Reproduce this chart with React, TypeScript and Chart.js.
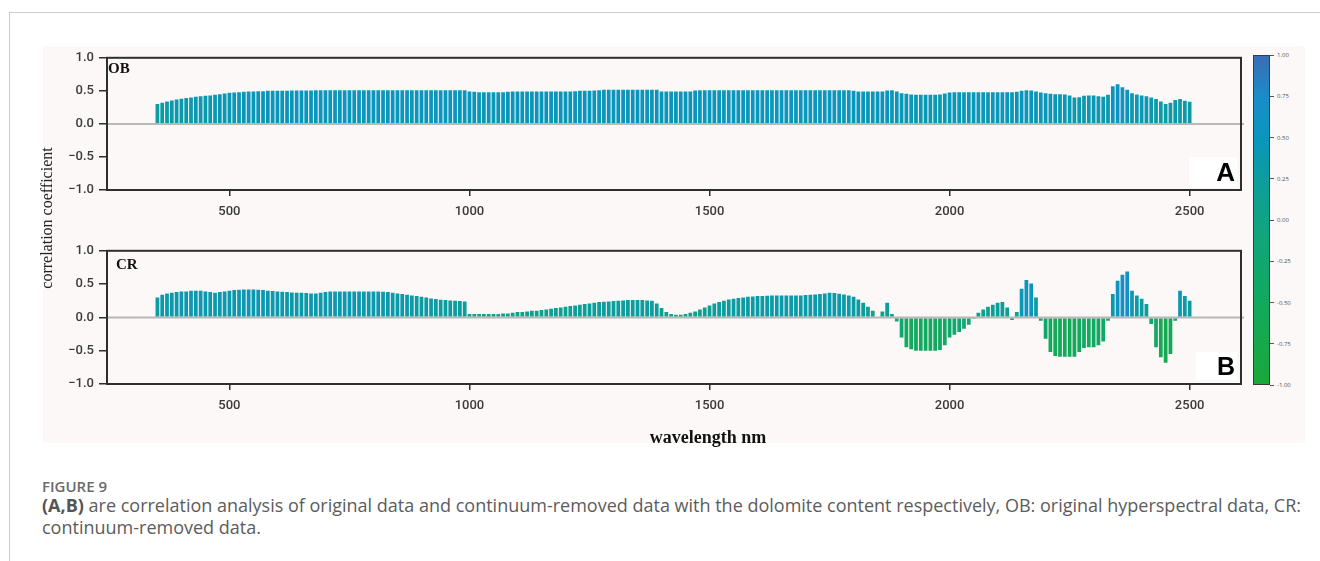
import React, { useEffect, useRef } from "react";
import { Chart, registerables } from "chart.js";

Chart.register(...registerables);

// Spectral sampling: 350–2500 nm every 10 nm
const WL_START = 350;
const WL_STEP = 10;

// Correlation coefficient, original spectra (OB)
const obValues = [
  0.30, 0.32, 0.34, 0.355, 0.37, 0.38, 0.39, 0.40, 0.41, 0.42,
  0.425, 0.43, 0.44, 0.45, 0.46, 0.47, 0.475, 0.48, 0.485, 0.49,
  0.49, 0.495, 0.495, 0.50, 0.50, 0.50, 0.50, 0.50, 0.505, 0.505,
  0.505, 0.505, 0.505, 0.51, 0.51, 0.51, 0.51, 0.51, 0.51, 0.51,
  0.51, 0.51, 0.51, 0.51, 0.51, 0.51, 0.51, 0.51, 0.51, 0.51,
  0.51, 0.51, 0.51, 0.51, 0.51, 0.51, 0.51, 0.51, 0.51, 0.51,
  0.51, 0.51, 0.51, 0.51, 0.51, 0.49, 0.485, 0.48, 0.48, 0.48,
  0.48, 0.48, 0.48, 0.485, 0.49, 0.49, 0.49, 0.49, 0.49, 0.49,
  0.49, 0.49, 0.49, 0.49, 0.49, 0.49, 0.49, 0.495, 0.50, 0.50,
  0.50, 0.505, 0.51, 0.515, 0.515, 0.515, 0.515, 0.515, 0.515, 0.515,
  0.515, 0.515, 0.515, 0.515, 0.515, 0.49, 0.49, 0.49, 0.49, 0.49,
  0.49, 0.49, 0.505, 0.51, 0.51, 0.51, 0.51, 0.51, 0.51, 0.51,
  0.51, 0.51, 0.51, 0.51, 0.51, 0.51, 0.51, 0.51, 0.51, 0.51,
  0.51, 0.51, 0.51, 0.51, 0.51, 0.51, 0.51, 0.51, 0.51, 0.51,
  0.51, 0.51, 0.51, 0.51, 0.51, 0.50, 0.49, 0.49, 0.49, 0.49,
  0.49, 0.49, 0.505, 0.51, 0.49, 0.465, 0.455, 0.445, 0.44, 0.44,
  0.44, 0.44, 0.44, 0.445, 0.46, 0.475, 0.48, 0.48, 0.48, 0.48,
  0.48, 0.48, 0.48, 0.48, 0.48, 0.48, 0.48, 0.48, 0.48, 0.485,
  0.50, 0.51, 0.505, 0.49, 0.475, 0.465, 0.455, 0.45, 0.45, 0.445,
  0.43, 0.40, 0.405, 0.425, 0.43, 0.43, 0.42, 0.41, 0.44, 0.57,
  0.60, 0.555, 0.515, 0.465, 0.445, 0.43, 0.42, 0.40, 0.375, 0.34,
  0.30, 0.32, 0.36, 0.375, 0.35, 0.335,
];

// Correlation coefficient, continuum-removed spectra (CR)
const crValues = [
  0.30, 0.34, 0.36, 0.37, 0.38, 0.39, 0.39, 0.40, 0.40, 0.40,
  0.39, 0.38, 0.37, 0.38, 0.39, 0.40, 0.41, 0.415, 0.42, 0.42,
  0.42, 0.415, 0.41, 0.40, 0.395, 0.39, 0.385, 0.38, 0.375, 0.37,
  0.37, 0.365, 0.36, 0.36, 0.37, 0.38, 0.39, 0.39, 0.39, 0.39,
  0.39, 0.39, 0.39, 0.39, 0.39, 0.39, 0.39, 0.385, 0.38, 0.37,
  0.36, 0.35, 0.34, 0.33, 0.32, 0.31, 0.30, 0.285, 0.275, 0.265,
  0.26, 0.255, 0.25, 0.245, 0.24, 0.05, 0.05, 0.05, 0.05, 0.05,
  0.05, 0.05, 0.06, 0.06, 0.07, 0.08, 0.08, 0.09, 0.10, 0.10,
  0.11, 0.12, 0.13, 0.14, 0.15, 0.16, 0.17, 0.18, 0.19, 0.20,
  0.21, 0.22, 0.23, 0.235, 0.24, 0.245, 0.25, 0.255, 0.26, 0.26,
  0.26, 0.26, 0.255, 0.25, 0.21, 0.14, 0.08, 0.05, 0.04, 0.04,
  0.05, 0.07, 0.09, 0.12, 0.15, 0.18, 0.21, 0.23, 0.25, 0.27,
  0.28, 0.29, 0.30, 0.31, 0.315, 0.32, 0.32, 0.325, 0.33, 0.33,
  0.33, 0.33, 0.33, 0.33, 0.33, 0.335, 0.34, 0.345, 0.35, 0.36,
  0.37, 0.365, 0.355, 0.345, 0.33, 0.31, 0.27, 0.22, 0.16, 0.10,
  0.01, 0.09, 0.22, 0.05, -0.06, -0.30, -0.45, -0.48, -0.50, -0.50,
  -0.50, -0.50, -0.50, -0.49, -0.42, -0.30, -0.26, -0.22, -0.17, -0.11,
  -0.02, 0.07, 0.12, 0.16, 0.19, 0.22, 0.23, 0.15, -0.04, 0.08,
  0.43, 0.56, 0.51, 0.30, -0.05, -0.32, -0.52, -0.58, -0.59, -0.59,
  -0.59, -0.59, -0.52, -0.46, -0.45, -0.45, -0.42, -0.36, -0.05, 0.35,
  0.55, 0.64, 0.69, 0.40, 0.33, 0.28, 0.20, -0.10, -0.45, -0.60,
  -0.68, -0.55, -0.05, 0.40, 0.32, 0.25,
];

const wavelengths = obValues.map((_, i) => WL_START + i * WL_STEP);

const xTicks = [500, 1000, 1500, 2000, 2500];
const yTicks = [-1, -0.5, 0, 0.5, 1];
const colorbarTicks = [1, 0.75, 0.5, 0.25, 0, -0.25, -0.5, -0.75, -1];

// Colour scale from -1 (green) to +1 (blue)
const colorStops: [number, string][] = [
  [-1.0, "#1aa83b"],
  [-0.5, "#12a95e"],
  [0.0, "#0fa482"],
  [0.25, "#0c9d9e"],
  [0.5, "#0a96bc"],
  [0.75, "#1a8cca"],
  [1.0, "#3a6db4"],
];

function hexToRgb(h: string) {
  return [parseInt(h.slice(1, 3), 16), parseInt(h.slice(3, 5), 16), parseInt(h.slice(5, 7), 16)];
}

function colorFor(v: number) {
  const c = Math.max(-1, Math.min(1, v));
  for (let i = 0; i < colorStops.length - 1; i++) {
    const [a, ca] = colorStops[i];
    const [b, cb] = colorStops[i + 1];
    if (c >= a && c <= b) {
      const t = (c - a) / (b - a);
      const ra = hexToRgb(ca);
      const rb = hexToRgb(cb);
      const m = ra.map((x, k) => Math.round(x + (rb[k] - x) * t));
      return `rgb(${m[0]},${m[1]},${m[2]})`;
    }
  }
  return colorStops[colorStops.length - 1][1];
}

const frameAndBaseline = {
  id: "frameAndBaseline",
  afterDatasetsDraw(chart: any) {
    const { ctx, chartArea: a, scales } = chart;
    const y0 = scales.y.getPixelForValue(0);
    ctx.save();
    ctx.strokeStyle = "#b8b8b8";
    ctx.lineWidth = 2;
    ctx.beginPath();
    ctx.moveTo(a.left, y0);
    ctx.lineTo(a.right + 3, y0);
    ctx.stroke();
    ctx.strokeStyle = "#2e2e2e";
    ctx.lineWidth = 2;
    ctx.strokeRect(a.left, a.top, a.right - a.left, a.bottom - a.top);
    ctx.restore();
  },
};

const tickFont = { family: "Roboto", size: 13, weight: 500 as any };

function SpectrumPanel({ values, top, height }: { values: number[]; top: number; height: number }) {
  const ref = useRef<HTMLCanvasElement>(null);
  useEffect(() => {
    const chart = new Chart(ref.current!, {
      type: "bar",
      data: {
        datasets: [
          {
            data: wavelengths.map((w, i) => ({ x: w, y: values[i] })),
            backgroundColor: (c: any) => colorFor(c.raw ? c.raw.y : 0),
            borderWidth: 0,
            barPercentage: 0.78,
            categoryPercentage: 1,
          },
        ],
      },
      options: {
        animation: false,
        responsive: false,
        devicePixelRatio: 1,
        layout: { padding: { top: 10, right: 3, left: 0, bottom: 0 } },
        plugins: { legend: { display: false }, tooltip: { enabled: false } },
        scales: {
          x: {
            type: "linear",
            offset: false,
            min: 245,
            max: 2607,
            afterBuildTicks: (s: any) => {
              s.ticks = xTicks.map((v) => ({ value: v }));
            },
            afterFit: (s: any) => {
              s.height = 45;
            },
            border: { display: false },
            grid: { display: true, offset: false, drawOnChartArea: false, drawTicks: true, tickLength: 6, color: "#2e2e2e", lineWidth: 1.5 },
            ticks: { font: tickFont, color: "#3a3a3a", padding: 8, maxRotation: 0, autoSkip: false, callback: (v: any) => String(v) },
          },
          y: {
            min: -1,
            max: 1,
            afterBuildTicks: (s: any) => {
              s.ticks = yTicks.map((v) => ({ value: v }));
            },
            afterFit: (s: any) => {
              s.width = 63;
            },
            border: { display: false },
            grid: { display: true, drawOnChartArea: false, drawTicks: true, tickLength: 8, color: "#2e2e2e", lineWidth: 1.5 },
            ticks: {
              font: tickFont,
              color: "#3a3a3a",
              padding: 5,
              callback: (v: any) => (v < 0 ? "\u2212" : "") + Math.abs(v).toFixed(1),
            },
          },
        },
      },
      plugins: [frameAndBaseline],
    } as any);
    return () => chart.destroy();
  }, [values]);
  return (
    <canvas
      ref={ref}
      width={1200}
      height={height}
      style={{ position: "absolute", left: 44, top, width: 1200, height }}
    />
  );
}

const serif = "'Liberation Serif', 'Times New Roman', serif";

export default function App() {
  const cbTop = 55;
  const cbHeight = 330;
  const gradient =
    "linear-gradient(to top, " +
    colorStops.map(([v, c]) => `${c} ${((v + 1) / 2) * 100}%`).join(", ") +
    ")";
  return (
    <div style={{ position: "absolute", left: 0, top: 0, width: 1320, height: 561, overflow: "hidden", background: "#ffffff" }}>
      <div style={{ position: "absolute", left: 9, top: 12, width: 1400, height: 700, borderTop: "1px solid #cdcdcd", borderLeft: "1px solid #cdcdcd" }} />
      <div style={{ position: "absolute", left: 43, top: 46, width: 1262, height: 397, background: "#fbf8f7" }} />

      <SpectrumPanel values={obValues} top={45} height={190} />
      <SpectrumPanel values={crValues} top={238} height={191} />

      <div style={{ position: "absolute", left: 108, top: 60, font: `bold 15px ${serif}`, color: "#111" }}>OB</div>
      <div style={{ position: "absolute", left: 116, top: 256, font: `bold 15px ${serif}`, color: "#111" }}>CR</div>

      <div style={{ position: "absolute", left: 1189, top: 157, width: 48, height: 30, background: "#ffffff" }} />
      <div style={{ position: "absolute", left: 1189, top: 157, width: 46, height: 30, textAlign: "right", font: "bold 26px 'Liberation Sans', Arial, sans-serif", lineHeight: "30px", color: "#000" }}>A</div>
      <div style={{ position: "absolute", left: 1196, top: 352, width: 41, height: 28, background: "#ffffff" }} />
      <div style={{ position: "absolute", left: 1196, top: 352, width: 39, height: 28, textAlign: "right", font: "bold 25px 'Liberation Sans', Arial, sans-serif", lineHeight: "28px", color: "#000" }}>B</div>

      <div
        style={{
          position: "absolute",
          left: 48 - 150,
          top: 218 - 10,
          width: 300,
          height: 20,
          lineHeight: "20px",
          textAlign: "center",
          transform: "rotate(-90deg)",
          font: `16px ${serif}`,
          color: "#222",
        }}
      >
        correlation coefficient
      </div>
      <div style={{ position: "absolute", left: 508, top: 426, width: 400, textAlign: "center", font: `bold 18px ${serif}`, color: "#111", lineHeight: "22px" }}>
        wavelength nm
      </div>

      {/* colour bar */}
      <div style={{ position: "absolute", left: 1253, top: cbTop, width: 17, height: cbHeight, background: gradient, border: "1px solid #3a3a3a", boxSizing: "border-box" }} />
      {colorbarTicks.map((v) => {
        const y = cbTop + ((1 - v) / 2) * cbHeight;
        return (
          <React.Fragment key={v}>
            <div style={{ position: "absolute", left: 1270, top: y - 0.5, width: 4, height: 1, background: "#555" }} />
            <div style={{ position: "absolute", left: 1277, top: y - 4, font: "6px 'Open Sans', sans-serif", lineHeight: "8px", color: "#555" }}>
              {v.toFixed(2)}
            </div>
          </React.Fragment>
        );
      })}

      <div style={{ position: "absolute", left: 42, top: 477, font: "600 15px 'Open Sans', sans-serif", color: "#6a6a6a", lineHeight: "18px" }}>
        FIGURE 9
      </div>
      <div style={{ position: "absolute", left: 42, top: 494, font: "18px 'Open Sans', sans-serif", color: "#5c5c5c", lineHeight: "22px", whiteSpace: "nowrap" }}>
        <b style={{ color: "#555" }}>(A,B)</b> are correlation analysis of original data and continuum-removed data with the dolomite content respectively, OB: original hyperspectral data, CR:
        <br />
        continuum-removed data.
      </div>
    </div>
  );
}
